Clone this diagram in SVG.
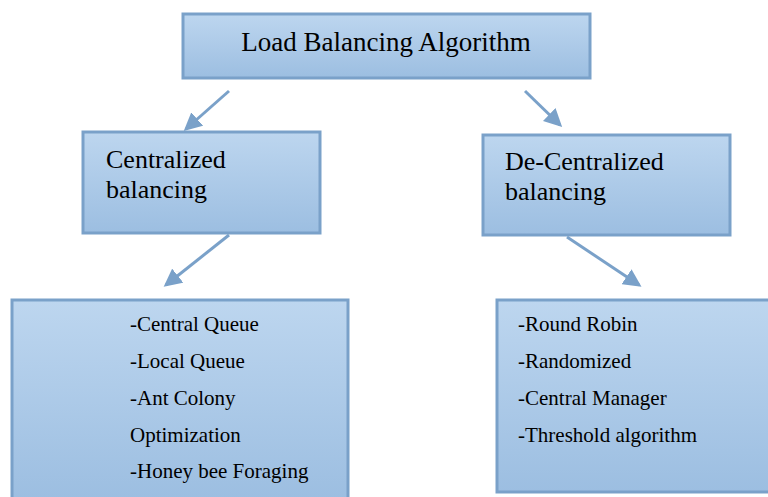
<svg xmlns="http://www.w3.org/2000/svg" width="768" height="497" viewBox="0 0 768 497">
<defs>
<linearGradient id="g" x1="0" y1="0" x2="0" y2="1">
<stop offset="0" stop-color="#bdd6ef"/>
<stop offset="1" stop-color="#9cbee1"/>
</linearGradient>
<marker id="ah" markerWidth="6" markerHeight="6" refX="5" refY="3" orient="auto" markerUnits="strokeWidth">
<path d="M0,0 L6,3 L0,6 z" fill="#7aa1c9"/>
</marker>
<style>
.box{fill:url(#g);stroke:#7aa1c9;stroke-width:3}
.t{font-family:"Liberation Serif",serif;fill:#000}
.c{stroke:#7aa1c9;stroke-width:3;fill:none;marker-end:url(#ah)}
</style>
</defs>
<rect width="768" height="497" fill="#fff"/>
<g id="root">
<rect class="box" x="183" y="14" width="407" height="64"/>
<text class="t" x="386" y="51" font-size="27" text-anchor="middle">Load Balancing Algorithm</text>
</g>
<g id="centralized">
<rect class="box" x="83" y="132" width="237" height="101"/>
<text class="t" x="106" y="168" font-size="26">Centralized</text>
<text class="t" x="106" y="198" font-size="26">balancing</text>
</g>
<g id="decentralized">
<rect class="box" x="483" y="135" width="247" height="100"/>
<text class="t" x="505" y="170" font-size="26">De-Centralized</text>
<text class="t" x="505" y="200" font-size="26">balancing</text>
</g>
<g id="central-list">
<rect class="box" x="12" y="300" width="336" height="200"/>
<text class="t" x="130" y="331" font-size="21">-Central Queue</text>
<text class="t" x="130" y="368" font-size="21">-Local Queue</text>
<text class="t" x="130" y="405" font-size="21">-Ant Colony</text>
<text class="t" x="130" y="442" font-size="21">Optimization</text>
<text class="t" x="130" y="478" font-size="21">-Honey bee Foraging</text>
</g>
<g id="decentral-list">
<rect class="box" x="497" y="300" width="275" height="192"/>
<text class="t" x="518" y="331" font-size="21">-Round Robin</text>
<text class="t" x="518" y="368" font-size="21">-Randomized</text>
<text class="t" x="518" y="405" font-size="21">-Central Manager</text>
<text class="t" x="518" y="442" font-size="21">-Threshold algorithm</text>
</g>
<g id="connectors">
<line class="c" x1="229" y1="91" x2="186" y2="129"/>
<line class="c" x1="525" y1="91" x2="560" y2="125"/>
<line class="c" x1="229" y1="235" x2="166" y2="285"/>
<line class="c" x1="567" y1="237" x2="639" y2="285"/>
</g>
</svg>
